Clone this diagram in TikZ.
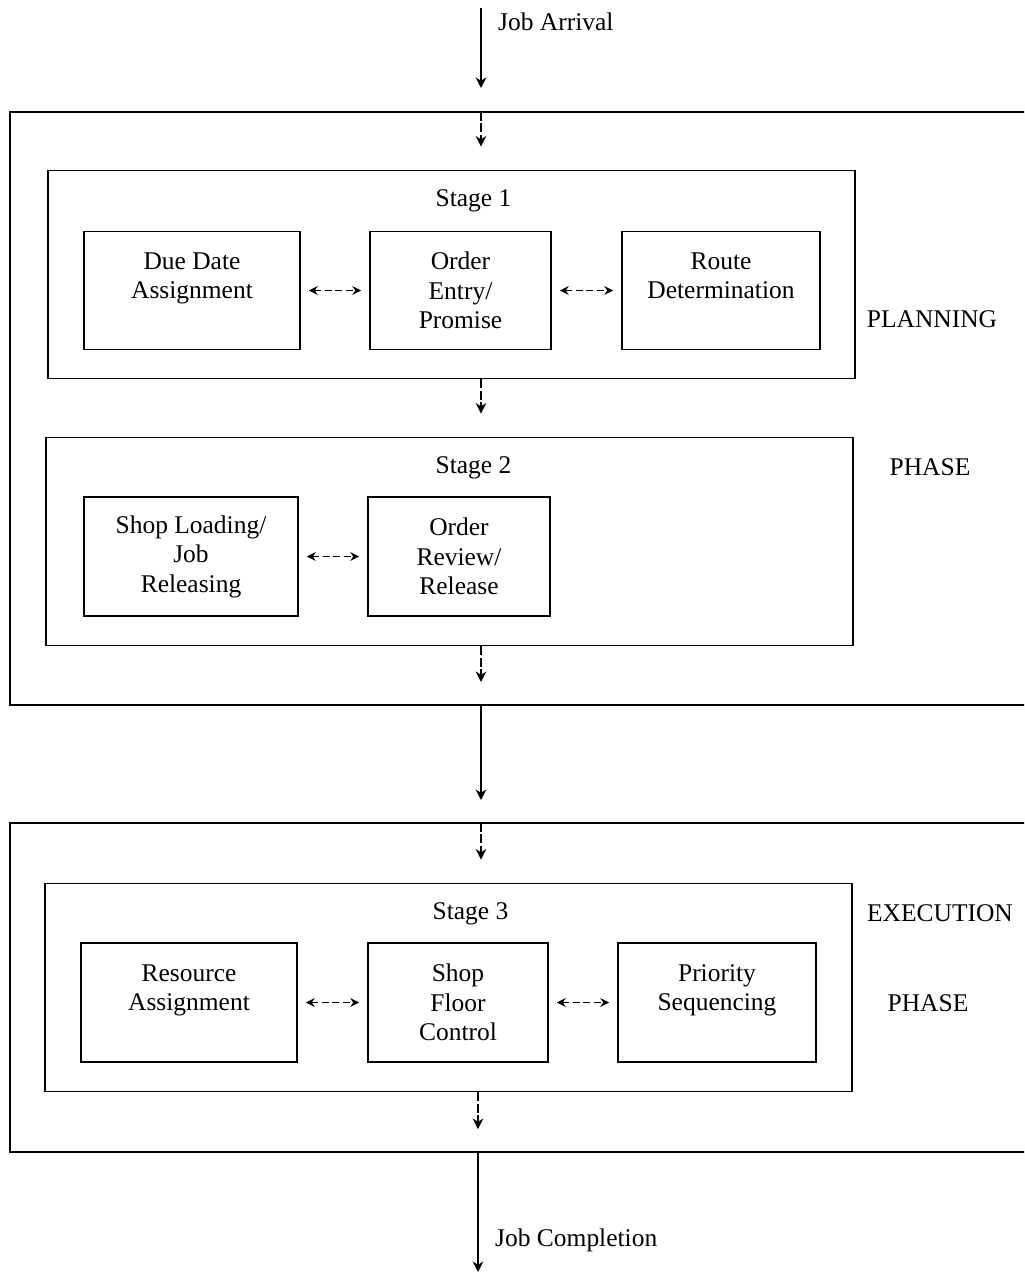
\documentclass[tikz,border=0pt]{standalone}
\usepackage{fontspec}
\setmainfont{Liberation Serif}
\usetikzlibrary{positioning,arrows.meta,calc}

\begin{document}
\begin{tikzpicture}[x=0.02cm, y=-0.02cm, >={Stealth[length=6pt,width=6pt]},
      font=\fontsize{14.5}{16.8}\selectfont,
      stagebox/.style={draw, line width=1.1pt, inner sep=0pt, minimum width=16.16cm, minimum height=4.16cm},
      task/.style={draw, line width=1pt, inner sep=0pt, align=center, minimum height=2.36cm},
      frame/.style={line width=1.2pt},
      flow/.style={->, line width=0.9pt, dash pattern=on 5pt off 1.5pt, shorten >=0.46cm},
      link/.style={{Stealth[length=5pt,width=5pt]}-{Stealth[length=5pt,width=5pt]}, line width=0.9pt, dash pattern=on 4pt off 2pt, shorten <=0.16cm, shorten >=0.16cm},
      phase/.style={font=\fontsize{14.5}{16.8}\selectfont}]
    \useasboundingbox (0,0) rectangle (1024,1274);
    \clip (0,0) rectangle (1024,1274);

    % outer frames, open on the right
    \draw[frame] (1040,112) -- (10,112) -- (10,705) -- (1040,705);
    \draw[frame] (1040,823) -- (10,823) -- (10,1152) -- (1040,1152);
    \coordinate (arrive) at (481,8);
    \coordinate (plantop) at (481,112);
    \coordinate (planbot) at (481,705);
    \coordinate (exectop) at (481,823);
    \coordinate (execbot) at (478,1152);
    \coordinate (done) at (478,1272);

    % stage 1
    \node[stagebox] (stage1) at (451.5,274.5) {};
    \node[anchor=north] (s1label) at ($(stage1.north)+(22,14)$) {Stage 1};
    \node[task, minimum width=4.32cm] (due) at (192,290.5) {Due Date\\ Assignment\\ \mbox{}};
    \node[task, minimum width=3.62cm] (entry) at (460.5,290.5) {Order\\ Entry/\\ Promise};
    \node[task, minimum width=3.96cm] (route) at (721,290.5) {Route\\ Determination\\ \mbox{}};

    % stage 2
    \node[stagebox] (stage2) at (449.5,541.5) {};
    \node[anchor=north] (s2label) at ($(stage2.north)+(24,14)$) {Stage 2};
    \node[task, minimum width=4.28cm, minimum height=2.38cm] (loading) at (191,556.5) {Shop Loading/\\ Job\\ Releasing};
    \node[task, minimum width=3.64cm, minimum height=2.38cm] (review) at (459,556.5) {Order\\ Review/\\ Release};

    % stage 3
    \node[stagebox, minimum width=16.14cm] (stage3) at (448.5,987.5) {};
    \node[anchor=north] (s3label) at ($(stage3.north)+(22,14)$) {Stage 3};
    \node[task, minimum width=4.32cm, minimum height=2.38cm] (resource) at (189,1002.5) {Resource\\ Assignment\\ \mbox{}};
    \node[task, minimum width=3.6cm, minimum height=2.38cm] (floor) at (458,1002.5) {Shop\\ Floor\\ Control};
    \node[task, minimum width=3.96cm, minimum height=2.38cm] (priority) at (717,1002.5) {Priority\\ Sequencing\\ \mbox{}};

    % phase labels
    \node[phase] (plan1) at (932,319) {PLANNING};
    \node[phase] (plan2) at (930,467) {PHASE};
    \node[phase] (exec1) at (940,913) {EXECUTION};
    \node[phase] (exec2) at (928,1003) {PHASE};

    % job flow
    \draw[->, line width=0.9pt, shorten >=0.48cm] (arrive) -- (plantop)
      node[pos=0.13, right=6pt] (arrlabel) {Job Arrival};
    \draw[flow] (plantop) -- (stage1.north -| plantop);
    \draw[flow] (stage1.south -| plantop) -- (stage2.north -| plantop);
    \draw[flow] (stage2.south -| plantop) -- (planbot);
    \draw[->, line width=0.9pt, shorten >=0.46cm] (planbot) -- (exectop);
    \draw[flow] (exectop) -- (stage3.north -| exectop);
    \draw[flow] (stage3.south -| execbot) -- (execbot);
    \draw[->, line width=0.9pt] (execbot) -- (done)
      node[pos=0.74, right=6pt] (donelabel) {Job Completion};

    % links inside the stages
    \foreach \a/\b in {due/entry, entry/route, loading/review, resource/floor, floor/priority} {
      \draw[link] (\a) -- (\b);
    }
  \end{tikzpicture}
\end{document}
